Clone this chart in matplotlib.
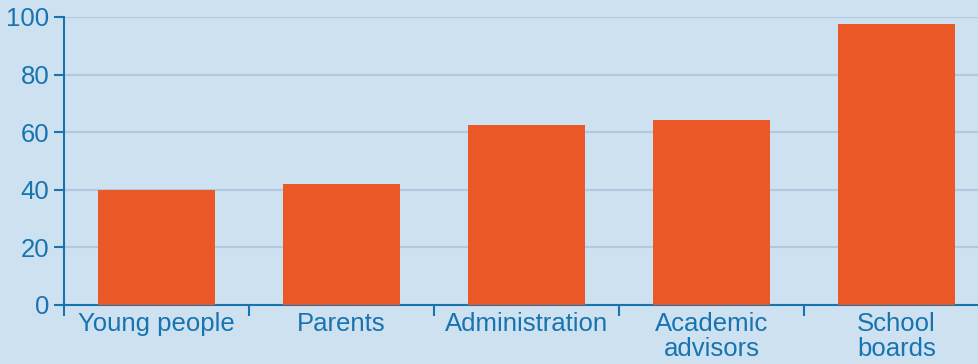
import matplotlib.pyplot as plt
import numpy as np

groups = ["Young people", "Parents", "Administration", "Academic\nadvisors", "School\nboards"]
values = [40, 42, 62.5, 64.2, 97.6]
yticks = [0, 20, 40, 60, 80, 100]

bg = "#cee1f0"
bar_color = "#ea5827"
ink = "#1874b0"
grid_color = "#b4c7e0"

plt.rcParams['font.family'] = ['Liberation Sans', 'DejaVu Sans']

fig = plt.figure(figsize=(9.79, 3.64), dpi=100, facecolor=bg)
ax = fig.add_axes([64 / 979, 59 / 364, 915 / 979, 288 / 364], facecolor=bg)

x = np.arange(len(groups))
ax.bar(x, values, width=0.635, color=bar_color, zorder=3)

ax.set_yticks(yticks)
ax.yaxis.grid(True, color=grid_color, linewidth=1.5, zorder=0)
ax.set_xticks(x)
ax.set_xticklabels(groups, linespacing=1.08)
ax.set_xticks(np.arange(-0.5, len(groups), 1.0), minor=True)
# ticks can widen the view, so set limits last
ax.set_ylim(0, 100)
ax.set_xlim(-0.5, 4.446)

for s in ["top", "right"]:
    ax.spines[s].set_visible(False)
for s in ["left", "bottom"]:
    ax.spines[s].set_color(ink)
    ax.spines[s].set_linewidth(1.5)

ax.tick_params(axis="y", colors=ink, labelsize=18.5, length=7.5, width=1.5, pad=3)
ax.tick_params(axis="x", which="major", colors=ink, labelsize=18.5, length=0, pad=5)
ax.tick_params(axis="x", which="minor", color=ink, length=8, width=1.5)

plt.savefig("out.png", dpi=100, facecolor=bg)
